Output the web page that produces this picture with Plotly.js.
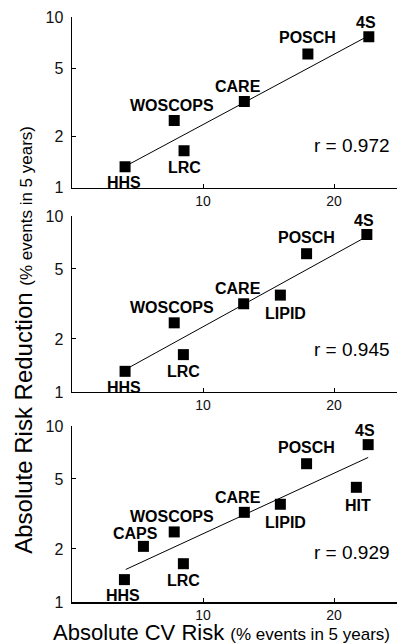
<!DOCTYPE html>
<html>
<head>
<meta charset="utf-8">
<script src="https://cdn.plot.ly/plotly-3.0.1.min.js"></script>
<style>html,body{margin:0;padding:0;background:#fff;}#chart{width:412px;height:644px;}</style>
</head>
<body>
<div id="chart"></div>
<script>
// Panel 1
var studies1 = ['HHS','LRC','WOSCOPS','CARE','POSCH','4S'];
var cvRisk1 = [4.05, 8.55, 7.8, 13.15, 18.0, 22.65];
var arr1 = [1.33, 1.65, 2.48, 3.2, 6.08, 7.67];
var fitX1 = [4.25, 22.4];
var fitY1 = [1.36, 7.6];
var r1 = 'r = 0.972';
// Panel 2
var studies2 = ['HHS','LRC','WOSCOPS','CARE','LIPID','POSCH','4S'];
var cvRisk2 = [4.05, 8.5, 7.8, 13.1, 15.9, 17.9, 22.5];
var arr2 = [1.31, 1.63, 2.47, 3.17, 3.55, 6.1, 7.84];
var fitX2 = [4.3, 22.3];
var fitY2 = [1.37, 7.5];
var r2 = 'r = 0.945';
// Panel 3
var studies3 = ['HHS','CAPS','LRC','WOSCOPS','CARE','LIPID','POSCH','HIT','4S'];
var cvRisk3 = [4.0, 5.45, 8.5, 7.8, 13.15, 15.9, 17.9, 21.7, 22.6];
var arr3 = [1.34, 2.07, 1.65, 2.5, 3.23, 3.59, 6.1, 4.48, 7.83];
var fitX3 = [4.1, 22.6];
var fitY3 = [1.53, 6.62];
var r3 = 'r = 0.929';

var xTicks = [10, 20];
var yTicks = [1, 2, 5, 10];
var yTitleMain = 'Absolute Risk Reduction';
var xTitleMain = 'Absolute CV Risk';
var unitText = '(% events in 5 years)';

var labelOffset = {
  'HHS': [-1, -16], 'LRC': [0, -17], 'WOSCOPS': [-2, 15], 'CARE': [-6, 15],
  'POSCH': [0, 16], '4S': [-3, 14], 'LIPID': [5, -18], 'HIT': [2, -18], 'CAPS': [-8, 13]
};

var FONT = 'Liberation Sans, Arial, sans-serif';
var panels = [
  {s: studies1, x: cvRisk1, y: arr1, fx: fitX1, fy: fitY1, r: r1, ry: 0.25},
  {s: studies2, x: cvRisk2, y: arr2, fx: fitX2, fy: fitY2, r: r2, ry: 0.24},
  {s: studies3, x: cvRisk3, y: arr3, fx: fitX3, fy: fitY3, r: r3, ry: 0.28}
];
var domains = [[0.708, 1.0], [0.359, 0.660], [0.0, 0.301]];

var data = [];
var annotations = [];
var layout = {
  width: 412, height: 644,
  margin: {l: 72, r: 15, t: 17, b: 42},
  paper_bgcolor: '#fff', plot_bgcolor: '#fff',
  showlegend: false,
  font: {family: FONT, color: '#000'}
};

panels.forEach(function(p, i) {
  var n = i + 1;
  var xa = n === 1 ? 'x' : 'x' + n;
  var ya = n === 1 ? 'y' : 'y' + n;
  data.push({
    type: 'scatter', mode: 'lines', x: p.fx, y: p.fy, xaxis: xa, yaxis: ya,
    line: {color: '#000', width: 1}, hoverinfo: 'skip'
  });
  data.push({
    type: 'scatter', mode: 'markers', x: p.x, y: p.y, xaxis: xa, yaxis: ya,
    marker: {symbol: 'square', size: 11, color: '#000'}
  });
  p.s.forEach(function(name, k) {
    var off = labelOffset[name];
    annotations.push({
      xref: xa, yref: ya, x: p.x[k], y: Math.log10(p.y[k]), text: '<b>' + name + '</b>',
      showarrow: false, xshift: off[0], yshift: off[1],
      font: {family: FONT, size: 16, color: '#000'}
    });
  });
  annotations.push({
    xref: xa + ' domain', yref: ya + ' domain', x: 0.862, y: p.ry, text: p.r,
    showarrow: false, xanchor: 'center', yanchor: 'middle',
    font: {family: FONT, size: 19, color: '#000'}
  });
  layout['xaxis' + (n === 1 ? '' : n)] = {
    domain: [0, 1], anchor: ya, range: [0, 24.8], tickvals: xTicks, ticktext: xTicks.map(String),
    showgrid: false, zeroline: false, showline: true, linecolor: '#000', linewidth: 1.5,
    ticks: 'inside', ticklen: 4, tickcolor: '#000', tickwidth: 1, ticklabelstandoff: 0,
    tickfont: {family: FONT, size: 14, color: '#111'}
  };
  layout['yaxis' + (n === 1 ? '' : n)] = {
    domain: domains[i], anchor: xa, type: 'log', range: [0, 1], tickvals: yTicks, ticktext: yTicks.map(String),
    showgrid: false, zeroline: false, showline: true, linecolor: '#000', linewidth: 1.5,
    ticks: 'inside', ticklen: 4, tickcolor: '#000', tickwidth: 1, ticklabelstandoff: 4,
    tickfont: {family: FONT, size: 16, color: '#111'}
  };
});

annotations.push({
  xref: 'paper', yref: 'paper', x: -0.148, y: 0.448, textangle: -90, showarrow: false,
  xanchor: 'center', yanchor: 'middle',
  text: yTitleMain + ' <span style="font-size:17px">' + unitText + '</span>',
  font: {family: FONT, size: 24, color: '#000'}
});
annotations.push({
  xref: 'paper', yref: 'paper', x: 0.46, y: -0.0752, showarrow: false,
  xanchor: 'center', yanchor: 'bottom', borderpad: 0,
  text: xTitleMain + ' <span style="font-size:17px">' + unitText + '</span>',
  font: {family: FONT, size: 22, color: '#000'}
});
layout.annotations = annotations;

Plotly.newPlot('chart', data, layout, {staticPlot: true, displayModeBar: false});
</script>
</body>
</html>
